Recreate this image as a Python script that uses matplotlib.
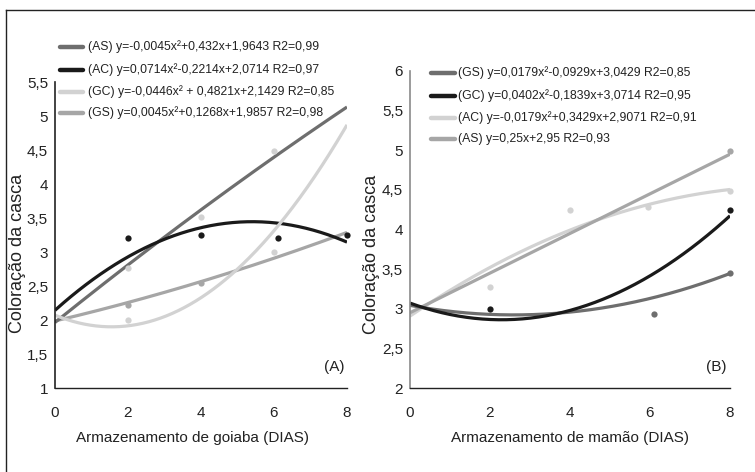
import numpy as np
import matplotlib
matplotlib.use("Agg")
import matplotlib.pyplot as plt
from matplotlib.lines import Line2D

plt.rcParams['font.family'] = ['Liberation Sans Narrow', 'Liberation Sans', 'DejaVu Sans']

# ---------------- data ----------------
days = [0, 2, 4, 6, 8]

# Panel A (goiaba) - trend coefficients (quadratic, highest power first) as drawn
a_dark_coef = [-0.0045, 0.432, 1.9643]
a_black_coef = [-0.0446, 0.4821, 2.1429]
a_light_coef = [0.0714, -0.2214, 2.0714]
a_mid_coef = [0.0045, 0.1268, 1.9857]
a_legend = ["(AS) y=-0,0045x²+0,432x+1,9643 R2=0,99",
            "(AC) y=0,0714x²-0,2214x+2,0714 R2=0,97",
            "(GC) y=-0,0446x² + 0,4821x+2,1429 R2=0,85",
            "(GS) y=0,0045x²+0,1268x+1,9857 R2=0,98"]
# observed points panel A
a_black_x = [2, 4, 6.1, 8]
a_black_y = [3.20, 3.25, 3.20, 3.25]
a_light_x = [2, 4, 6, 2, 6]
a_light_y = [2.76, 3.51, 4.49, 2.0, 3.0]
a_mid_x = [2, 4]
a_mid_y = [2.22, 2.55]

# Panel B (mamão)
b_dark_coef = [0.0179, -0.0929, 3.0429]
b_black_coef = [0.0402, -0.1839, 3.0714]
b_light_coef = [-0.0179, 0.3429, 2.9071]
b_mid_coef = [0.0, 0.25, 2.95]
b_legend = ["(GS) y=0,0179x²-0,0929x+3,0429 R2=0,85",
            "(GC) y=0,0402x²-0,1839x+3,0714 R2=0,95",
            "(AC) y=-0,0179x²+0,3429x+2,9071 R2=0,91",
            "(AS) y=0,25x+2,95 R2=0,93"]
b_light_x = [2, 4, 5.95, 8]
b_light_y = [3.28, 4.24, 4.29, 4.48]
b_mid_x = [8]
b_mid_y = [4.99]
b_black_x = [2, 8]
b_black_y = [3.00, 4.24]
b_dark_x = [6.1, 8]
b_dark_y = [2.93, 3.45]

a_yticks = [1, 1.5, 2, 2.5, 3, 3.5, 4, 4.5, 5, 5.5]
b_yticks = [2, 2.5, 3, 3.5, 4, 4.5, 5, 5.5, 6]
xticks = [0, 2, 4, 6, 8]

# ---------------- style ----------------
C_DARK = '#6e6e6e'
C_BLACK = '#1a1a1a'
C_LIGHT = '#d2d2d2'
C_MID = '#a6a6a6'
LW = 2.3
TXT = '#222222'

W, H = 755, 472
fig = plt.figure(figsize=(W / 100, H / 100), dpi=100)

def fx(px):
    return px / W

def fy(py):
    return 1 - py / H

axA = fig.add_axes([fx(55), fy(388), fx(347 - 55), (388 - 82) / H])
axB = fig.add_axes([fx(410), fy(388), fx(730 - 410), (388 - 71) / H])

xs = np.linspace(0, 8, 200)

# Panel A
axA.plot(xs, np.polyval(a_mid_coef, xs), color=C_MID, lw=LW, solid_capstyle='butt')
axA.plot(xs, np.polyval(a_dark_coef, xs), color=C_DARK, lw=LW, solid_capstyle='butt')
axA.plot(xs, np.polyval(a_black_coef, xs), color=C_BLACK, lw=LW, solid_capstyle='butt')
axA.plot(xs, np.polyval(a_light_coef, xs), color=C_LIGHT, lw=LW, solid_capstyle='butt')
axA.plot(a_light_x, a_light_y, 'o', color=C_LIGHT, ms=4.5, mec='none', clip_on=False)
axA.plot(a_mid_x, a_mid_y, 'o', color=C_MID, ms=4.5, mec='none', clip_on=False)
axA.plot(a_black_x, a_black_y, 'o', color=C_BLACK, ms=4.5, mec='none', clip_on=False)
axA.set_xlim(0, 8)
axA.set_ylim(1, 5.5)
axA.set_yticks(a_yticks)
axA.set_yticklabels([f"{v:g}".replace('.', ',') for v in a_yticks])

# Panel B
axB.plot(xs, np.polyval(b_light_coef, xs), color=C_LIGHT, lw=LW, solid_capstyle='butt')
axB.plot(xs, np.polyval(b_mid_coef, xs), color=C_MID, lw=LW, solid_capstyle='butt')
axB.plot(xs, np.polyval(b_dark_coef, xs), color=C_DARK, lw=LW, solid_capstyle='butt')
axB.plot(xs, np.polyval(b_black_coef, xs), color=C_BLACK, lw=LW, solid_capstyle='butt')
axB.plot(b_light_x, b_light_y, 'o', color=C_LIGHT, ms=4.5, mec='none', clip_on=False)
axB.plot(b_mid_x, b_mid_y, 'o', color=C_MID, ms=4.5, mec='none', clip_on=False)
axB.plot(b_dark_x, b_dark_y, 'o', color=C_DARK, ms=4.5, mec='none', clip_on=False)
axB.plot(b_black_x, b_black_y, 'o', color=C_BLACK, ms=4.5, mec='none', clip_on=False)
axB.set_xlim(0, 8)
axB.set_ylim(2, 6)
axB.set_yticks(b_yticks)
axB.set_yticklabels([f"{v:g}".replace('.', ',') for v in b_yticks])

for ax, lspine in ((axA, '#222222'), (axB, '#8a8a8a')):
    ax.spines['top'].set_visible(False)
    ax.spines['right'].set_visible(False)
    ax.spines['left'].set_color(lspine)
    ax.spines['bottom'].set_color('#222222')
    ax.spines['left'].set_linewidth(1.2)
    ax.spines['bottom'].set_linewidth(1.0)
    ax.set_xticks(xticks)
    ax.tick_params(axis='both', length=0, labelsize=11, colors=TXT)
    ax.tick_params(axis='x', pad=13)
    ax.tick_params(axis='y', pad=5)
    ax.patch.set_alpha(0)

axA.text(0.99, 0.07, "(A)", transform=axA.transAxes, ha='right', va='center',
         fontsize=11, color=TXT)
axB.text(0.99, 0.065, "(B)", transform=axB.transAxes, ha='right', va='center',
         fontsize=11, color=TXT)

# axis labels
fig.text(fx(192), fy(438), "Armazenamento de goiaba (DIAS)", ha='center', va='center',
         fontsize=11, color=TXT)
fig.text(fx(570), fy(438), "Armazenamento de mamão (DIAS)", ha='center', va='center',
         fontsize=11, color=TXT)
fig.text(fx(18), fy(253), "Coloração da casca", rotation=90, ha='center', va='center',
         fontsize=13, color=TXT)
fig.text(fx(372), fy(254), "Coloração da casca", rotation=90, ha='center', va='center',
         fontsize=13, color=TXT)

# legends
a_cols = [C_DARK, C_BLACK, C_LIGHT, C_MID]
a_rows = [47, 70, 92, 113]
for lab, c, yy in zip(a_legend, a_cols, a_rows):
    fig.add_artist(Line2D([fx(60), fx(83)], [fy(yy), fy(yy)], color=c, lw=3.2,
                          solid_capstyle='round'))
    fig.text(fx(88), fy(yy), lab, ha='left', va='center', fontsize=8.8, color=TXT)

b_cols = [C_DARK, C_BLACK, C_LIGHT, C_MID]
b_rows = [73, 96, 118, 139]
for lab, c, yy in zip(b_legend, b_cols, b_rows):
    fig.add_artist(Line2D([fx(431), fx(455)], [fy(yy), fy(yy)], color=c, lw=3.2,
                          solid_capstyle='round'))
    fig.text(fx(458), fy(yy), lab, ha='left', va='center', fontsize=8.8, color=TXT)

# outer frame (open at right and bottom)
fig.add_artist(Line2D([fx(6), 1.0], [fy(9.5), fy(9.5)], color='#222222', lw=1.0))
fig.add_artist(Line2D([fx(6), fx(6)], [0.0, fy(9.5)], color='#222222', lw=1.0))

fig.savefig("out.png", dpi=100)
